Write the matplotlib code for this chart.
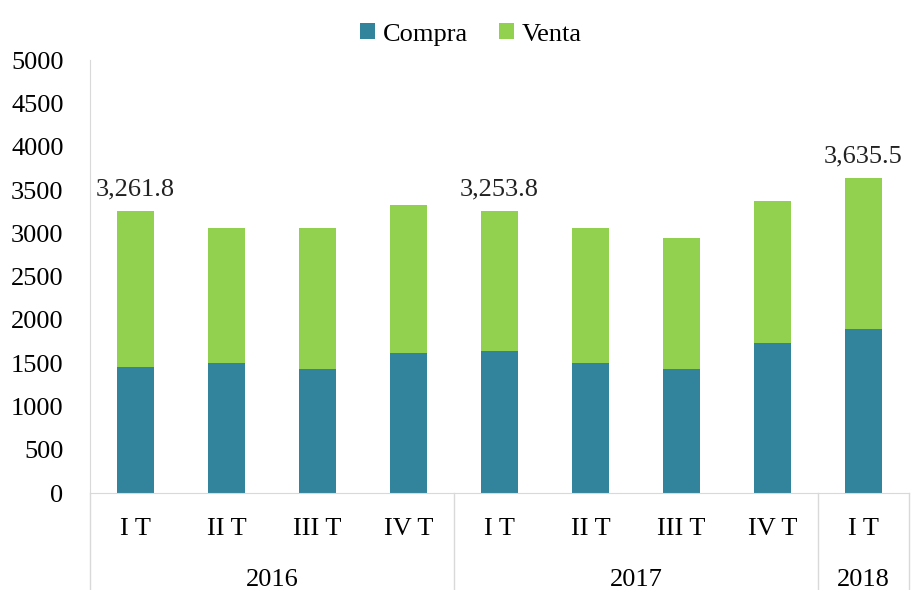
import matplotlib
matplotlib.use('Agg')
import matplotlib.pyplot as plt
import numpy as np

# Data
quarters = ['I T', 'II T', 'III T', 'IV T', 'I T', 'II T', 'III T', 'IV T', 'I T']
years = ['2016', '2017', '2018']
year_sizes = [4, 4, 1]
compra = [1458, 1505, 1432, 1620, 1640, 1505, 1435, 1728, 1890]
venta = [1803.8, 1552, 1625, 1709, 1613.8, 1555, 1513, 1647, 1745.5]
labels = {0: '3,261.8', 4: '3,253.8', 8: '3,635.5'}

plt.rcParams['font.family'] = ['Liberation Serif', 'DejaVu Serif']

fig = plt.figure(figsize=(9.11, 5.9), dpi=100)
ax = fig.add_axes([0.0988, 0.1644, 0.899, 0.7336])

x = np.arange(len(quarters))
c1 = '#31849B'
c2 = '#92D050'
ax.bar(x, compra, width=0.4, color=c1, label='Compra')
ax.bar(x, venta, width=0.4, bottom=compra, color=c2, label='Venta')

totals = np.array(compra) + np.array(venta)
for i, t in labels.items():
    ax.text(x[i], totals[i] + 120, t, ha='center', va='bottom', fontsize=19, color='#222222')

ax.set_xlim(-0.5, len(quarters) - 0.5)
ax.set_ylim(0, 5000)
ax.set_yticks(np.arange(0, 5001, 500))
ax.tick_params(axis='y', length=0, labelsize=19, pad=19)
ax.set_xticks(x)
ax.set_xticklabels(quarters, fontsize=19)
ax.tick_params(axis='x', length=0, pad=18)

for s in ['top', 'right']:
    ax.spines[s].set_visible(False)
for s in ['left', 'bottom']:
    ax.spines[s].set_color('#d9d9d9')

# year group labels and separators
trans = ax.get_xaxis_transform()
start = -0.5
for yr, n in zip(years, year_sizes):
    ax.plot([start, start], [0, -0.224], transform=trans, color='#d9d9d9', lw=1, clip_on=False)
    ax.text(start + n / 2, -0.2, yr, transform=trans, ha='center', va='center', fontsize=19)
    start += n
ax.plot([start, start], [0, -0.224], transform=trans, color='#d9d9d9', lw=1, clip_on=False)

ax.legend(loc='upper center', bbox_to_anchor=(0.465, 1.14), ncol=2, frameon=False,
          fontsize=19, handlelength=0.55, handleheight=0.55, handletextpad=0.3, columnspacing=1.2)

plt.savefig('out.png', dpi=100)
plt.close()
